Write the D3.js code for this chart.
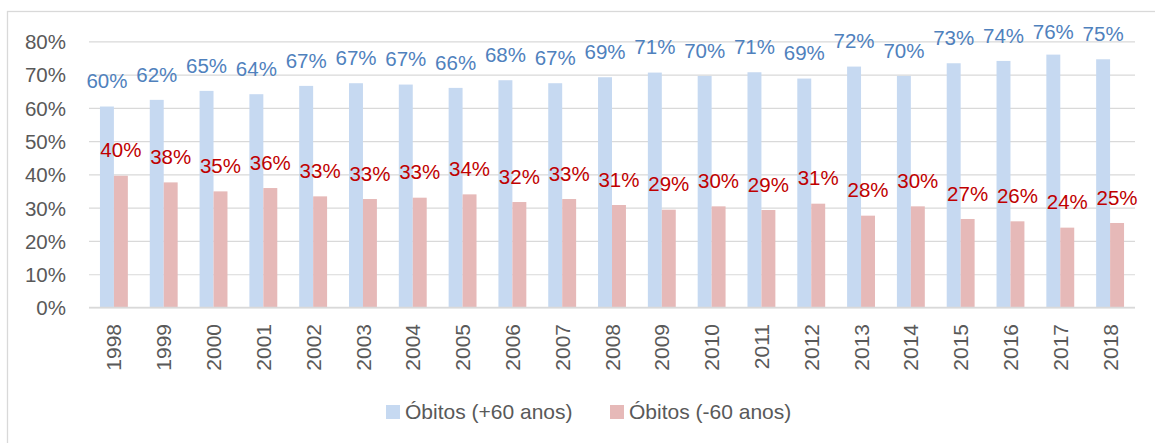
<!DOCTYPE html>
<html>
<head>
<meta charset="utf-8">
<script src="https://cdn.jsdelivr.net/npm/d3@7"></script>
<style>
  body { margin: 0; background: #fff; }
  svg { display: block; font-family: "Liberation Sans", Arial, sans-serif; }
</style>
</head>
<body>
<div id="container"></div>
<script>
var years = ['1998', '1999', '2000', '2001', '2002', '2003', '2004', '2005', '2006', '2007',
             '2008', '2009', '2010', '2011', '2012', '2013', '2014', '2015', '2016', '2017', '2018'];
var seriesNames = ['Óbitos (+60 anos)', 'Óbitos (-60 anos)'];
var mais60 = [60.4, 62.4, 65.1, 64.1, 66.6, 67.4, 67.0, 66.0, 68.3, 67.4,
              69.2, 70.6, 69.6, 70.7, 68.8, 72.4, 69.6, 73.4, 74.1, 76.0, 74.6];
var menos60 = [39.6, 37.6, 34.9, 35.9, 33.4, 32.6, 33.0, 34.0, 31.7, 32.6,
               30.8, 29.4, 30.4, 29.3, 31.2, 27.6, 30.4, 26.6, 25.9, 24.0, 25.4];
var yTicks = [0, 10, 20, 30, 40, 50, 60, 70, 80];

var barColors = ['#C6D9F1', '#E6B9B8'];
var labelColors = ['#4F81BD', '#C00000'];

var totalWidth = 1155,
    totalHeight = 443,
    plotLeft = 89,
    plotRight = 1135,
    plotTop = 41.3,
    plotBottom = 307.5;

var data = years.map(function(y, i) {
  return {year: y, values: [mais60[i], menos60[i]]};
});

// 比例尺
var x0 = d3.scaleBand()
           .domain(years)
           .range([plotLeft, plotRight])
           .paddingInner(0.44)
           .paddingOuter(0.22);
var x1 = d3.scaleBand()
           .domain([0, 1])
           .range([0, x0.bandwidth()]);
var yScale = d3.scaleLinear()
               .domain([0, 80])
               .range([plotBottom, plotTop]);

var svg = d3.select("#container")
            .append("svg")
            .attr("width", totalWidth)
            .attr("height", totalHeight);

// chart frame
svg.append("rect")
   .attr("x", 7.5).attr("y", 11.5)
   .attr("width", 1170).attr("height", 460)
   .attr("fill", "none")
   .attr("stroke", "#D9D9D9")
   .attr("stroke-width", 1.3);

// gridlines + y labels
var yAxis = d3.axisLeft(yScale)
              .tickValues(yTicks)
              .tickSize(-(plotRight - plotLeft))
              .tickPadding(23)
              .tickFormat(function(d) { return d + "%"; });
var gy = svg.append("g")
            .attr("class", "y-axis")
            .attr("transform", "translate(" + plotLeft + ",0)")
            .call(yAxis);
gy.select(".domain").remove();
gy.selectAll(".tick line")
  .attr("stroke", "#D9D9D9")
  .attr("stroke-width", 1.2);
gy.selectAll(".tick text")
  .attr("fill", "#595959")
  .attr("font-size", "20.5px")
  .attr("dy", "0.36em");

// bars
var groups = svg.append("g")
                .attr("class", "bars")
                .selectAll(".grp")
                .data(data).enter()
                .append("g").attr("class", "grp")
                .attr("transform", function(d) { return "translate(" + x0(d.year) + ",0)"; });

groups.selectAll("rect")
      .data(function(d) { return d.values; }).enter()
      .append("rect")
      .attr("x", function(d, i) { return x1(i); })
      .attr("width", x1.bandwidth())
      .attr("y", function(d) { return yScale(d); })
      .attr("height", function(d) { return plotBottom - yScale(d); })
      .attr("fill", function(d, i) { return barColors[i]; });

// data labels
groups.selectAll("text")
      .data(function(d) { return d.values; }).enter()
      .append("text")
      .attr("x", function(d, i) { return x1(i) + x1.bandwidth() / 2; })
      .attr("y", function(d) { return Math.max(yScale(d) - 18.3, 39.3); })
      .attr("text-anchor", "middle")
      .attr("font-size", "20.5px")
      .attr("fill", function(d, i) { return labelColors[i]; })
      .text(function(d) { return Math.round(d) + "%"; });

// x axis
svg.append("line")
   .attr("x1", plotLeft).attr("x2", plotRight)
   .attr("y1", plotBottom).attr("y2", plotBottom)
   .attr("stroke", "#D9D9D9")
   .attr("stroke-width", 1.3);

svg.append("g")
   .attr("class", "x-axis")
   .selectAll("text")
   .data(years).enter()
   .append("text")
   .attr("transform", function(d) {
     return "translate(" + (x0(d) + x0.bandwidth() / 2) + ",324) rotate(-90)";
   })
   .attr("text-anchor", "end")
   .attr("dy", "0.36em")
   .attr("font-size", "21px")
   .attr("fill", "#595959")
   .text(function(d) { return d; });

// 图例
var legendX = [386, 610];
var legend = svg.append("g").attr("class", "legend");
var items = legend.selectAll(".series")
                  .data(seriesNames).enter()
                  .append("g").attr("class", "series")
                  .attr("transform", function(d, i) { return "translate(" + legendX[i] + ",405)"; });
items.append("rect")
     .attr("width", 14).attr("height", 14)
     .attr("fill", function(d, i) { return barColors[i]; });
items.append("text")
     .attr("x", 19)
     .attr("y", 14)
     .attr("font-size", "21px")
     .attr("fill", "#595959")
     .text(function(d) { return d; });
</script>
</body>
</html>
